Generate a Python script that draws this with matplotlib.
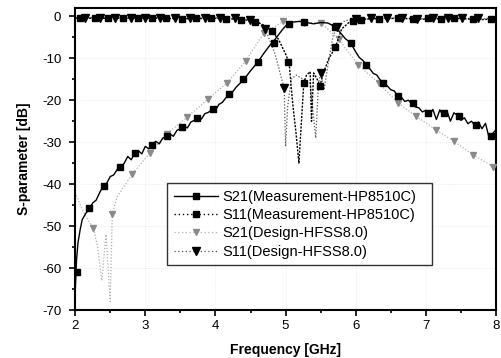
import numpy as np
import matplotlib
matplotlib.use("Agg")
import matplotlib.pyplot as plt
from matplotlib.lines import Line2D
from matplotlib.ticker import MultipleLocator

plt.rcParams['font.family'] = ['Liberation Sans', 'DejaVu Sans']
plt.rcParams['axes.unicode_minus'] = False

# S21 measured (solid line, squares)
s21m_f = [2.00, 2.02, 2.04, 2.07, 2.10, 2.15, 2.20, 2.25, 2.30, 2.35, 2.40, 2.45, 2.50, 2.55,
          2.60, 2.65, 2.70, 2.75, 2.80, 2.85, 2.90, 2.95, 3.00, 3.05, 3.10, 3.15, 3.20, 3.25,
          3.30, 3.35, 3.40, 3.45, 3.50, 3.55, 3.60, 3.65, 3.70, 3.75, 3.80, 3.85, 3.90, 3.95,
          4.00, 4.05, 4.10, 4.15, 4.20, 4.25, 4.30, 4.35, 4.40, 4.45, 4.50, 4.55, 4.60, 4.65,
          4.70, 4.75, 4.80, 4.85, 4.90, 4.95, 5.00, 5.05, 5.10, 5.20, 5.30, 5.40, 5.50, 5.60,
          5.65, 5.70, 5.75, 5.80, 5.85, 5.90, 5.95, 6.00, 6.05, 6.10, 6.15, 6.20, 6.25, 6.30,
          6.35, 6.40, 6.45, 6.50, 6.55, 6.60, 6.65, 6.70, 6.75, 6.80, 6.85, 6.90, 6.95, 7.00,
          7.05, 7.10, 7.15, 7.20, 7.25, 7.30, 7.35, 7.40, 7.45, 7.50, 7.55, 7.60, 7.65, 7.70,
          7.75, 7.80, 7.85, 7.90, 7.95, 8.00]
s21m_db = [-66, -58, -54, -51, -48.5, -47, -46, -44.5, -43.8, -42, -40.5, -39.8, -38.2, -37.8,
           -36.5, -36, -35, -33.4, -34.2, -32.5, -32, -32.8, -31, -31.6, -30.5, -29.8, -30.4, -29,
           -28.8, -28, -28.6, -27.2, -26.8, -26.2, -26.6, -25.2, -24.8, -24.2, -24.5, -23.2, -22.9, -22.2,
           -22.4, -21, -20.5, -19.4, -18.6, -17.9, -16.8, -16, -15, -14.1, -13, -12, -11, -9.8,
           -8.6, -7.5, -6.4, -5.5, -4.4, -3.3, -2.3, -1.8, -1.4, -1.2, -1.5, -1.8, -1.5, -1.6,
           -2.0, -2.6, -3.3, -4.3, -5.3, -6.0, -7.0, -8.5, -9.8, -10.5, -11.5, -12.5, -13.6, -14.0,
           -15.2, -15.8, -16.6, -17.5, -17.8, -19.0, -19.3, -20.3, -20.0, -20.8, -21.6, -21.8, -22.8, -22.4,
           -23.6, -22.2, -24.6, -22.3, -23.8, -22.5, -25.0, -23.0, -23.6, -24.8, -24.2, -25.6, -25.0, -26.0,
           -25.2, -26.8, -25.5, -28.8, -28.0, -27.0]
s21m_mk_f = [2.03, 2.20, 2.41, 2.64, 2.86, 3.10, 3.31, 3.53, 3.74, 3.96, 4.19, 4.40, 4.60, 4.83,
             5.05, 5.26, 5.71, 5.93, 6.14, 6.39, 6.60, 6.81, 7.03, 7.26, 7.47, 7.71, 7.93]
s21m_mk_db = [-61, -45.8, -40.5, -36, -32.5, -30.7, -28.6, -26.5, -24.2, -22.2, -18.6, -14.9, -11, -6.4,
              -1.8, -1.3, -2.6, -6.3, -11.5, -15.8, -19, -20.6, -23, -23, -23.8, -26, -28.6]

# S11 measured (dotted line, small squares)
s11m_f = [2.00, 2.50, 3.00, 3.50, 4.00, 4.30, 4.50, 4.60, 4.70, 4.80, 4.90, 5.00, 5.05, 5.10,
          5.15, 5.19, 5.23, 5.26, 5.30, 5.35, 5.37, 5.40, 5.45, 5.49, 5.55, 5.62, 5.71, 5.80,
          5.93, 6.20, 6.60, 7.00, 7.40, 7.80, 8.00]
s11m_db = [-0.4, -0.5, -0.4, -0.6, -0.5, -0.7, -1.0, -1.4, -2.2, -3.5, -5.5, -9.0, -11.0, -20.5,
           -28, -35, -24, -15.8, -14.0, -13.2, -25, -13.5, -15, -16.5, -13, -10, -7.4, -3.0,
           -1.1, -0.6, -0.5, -0.7, -0.5, -0.8, -0.6]
s11m_mk_f = [2.07, 2.28, 2.47, 2.68, 2.90, 3.10, 3.30, 3.52, 3.72, 3.94, 4.15, 4.36, 4.57,
             4.80, 5.04, 5.26, 5.49, 5.71, 5.96, 6.07, 6.33, 6.60, 6.81, 7.03, 7.21, 7.40, 7.67, 7.93]
s11m_mk_db = [-0.5, -0.4, -0.5, -0.5, -0.4, -0.5, -0.5, -0.6, -0.5, -0.5, -0.6, -0.8, -1.3,
              -3.5, -11, -15.8, -16.5, -7.4, -1.1, -0.8, -0.6, -0.5, -0.7, -0.5, -0.6, -0.5, -0.7, -0.6]

# S21 design (grey dotted line, small grey triangles)
s21d_f = [2.00, 2.10, 2.20, 2.26, 2.32, 2.38, 2.44, 2.50, 2.53, 2.60, 2.70, 2.81, 3.07, 3.31,
          3.60, 3.89, 4.17, 4.43, 4.69, 4.97, 5.26, 5.50, 5.76, 6.03, 6.33, 6.60, 6.86, 7.14,
          7.40, 7.67, 7.96, 8.00]
s21d_db = [-42, -46, -49, -50.4, -55, -63, -52, -68, -47, -43, -40.5, -37.7, -32.5, -28,
           -24, -19.8, -15.8, -10.7, -4, -1.2, -1.5, -1.5, -5.5, -11.5, -16, -20.6, -23.8, -27,
           -29.8, -33, -35.8, -36.2]
s21d_mk_f = [2.26, 2.53, 2.81, 3.07, 3.31, 3.60, 3.89, 4.17, 4.43, 4.69, 4.97, 5.26, 5.50,
             5.76, 6.03, 6.33, 6.60, 6.86, 7.14, 7.40, 7.67, 7.96]
s21d_mk_db = [-50.4, -47, -37.7, -32.5, -28, -24, -19.8, -15.8, -10.7, -4, -1.2, -1.5, -1.5,
              -5.5, -11.5, -16, -20.6, -23.8, -27, -29.8, -33, -35.8]

# S11 design (dotted line, black triangles)
s11d_f = [2.00, 2.50, 3.00, 3.50, 4.00, 4.40, 4.60, 4.71, 4.85, 4.98, 5.00, 5.03, 5.08, 5.15,
          5.25, 5.35, 5.43, 5.47, 5.50, 5.55, 5.62, 5.68, 5.74, 5.85, 6.20, 6.60, 7.00, 7.40,
          7.80, 8.00]
s11d_db = [-0.3, -0.4, -0.3, -0.4, -0.4, -0.6, -1.2, -3.0, -9, -17.2, -31, -21.5, -15, -14,
           -15, -16, -29, -16, -13.6, -17.4, -10, -4.5, -2.6, -1.0, -0.5, -0.4, -0.6, -0.4,
           -0.6, -0.5]
s11d_mk_f = [2.14, 2.36, 2.57, 2.79, 3.00, 3.21, 3.42, 3.64, 3.85, 4.06, 4.28, 4.49, 4.71,
             4.98, 5.50, 5.74, 6.00, 6.22, 6.45, 6.66, 6.88, 7.10, 7.31, 7.52, 7.74]
s11d_mk_db = [-0.4, -0.4, -0.4, -0.3, -0.4, -0.4, -0.3, -0.4, -0.4, -0.4, -0.5, -0.8, -3.0,
              -17.2, -13.6, -2.6, -0.6, -0.5, -0.5, -0.4, -0.6, -0.5, -0.5, -0.5, -0.5]

labels = ['S21(Measurement-HP8510C)', 'S11(Measurement-HP8510C)',
          'S21(Design-HFSS8.0)', 'S11(Design-HFSS8.0)']

fig = plt.figure(figsize=(5.01, 3.58), dpi=100)
ax = fig.add_axes([0.150, 0.134, 0.840, 0.844])

grey = '#8a8a8a'

ax.plot(s21d_f, s21d_db, color='#b0b0b0', lw=0.9, ls=(0, (1, 1.5)), zorder=2)
ax.plot(s21d_mk_f, s21d_mk_db, ls='none', marker='v', ms=4.5, color=grey, zorder=3)

ax.plot(s11d_f, s11d_db, color='#555555', lw=0.9, ls=(0, (1, 1.5)), zorder=2)
ax.plot(s11d_mk_f, s11d_mk_db, ls='none', marker='v', ms=6, color='black', zorder=3)

ax.plot(s11m_f, s11m_db, color='black', lw=1.0, ls=(0, (1.5, 1)), zorder=4)
ax.plot(s11m_mk_f, s11m_mk_db, ls='none', marker='s', ms=4.5, color='black', zorder=5)

ax.plot(s21m_f, s21m_db, color='black', lw=1.0, zorder=4)
ax.plot(s21m_mk_f, s21m_mk_db, ls='none', marker='s', ms=5, color='black', zorder=5)

ax.set_xlim(2, 8)
ax.set_ylim(-70, 2)
ax.xaxis.set_major_locator(MultipleLocator(1))
ax.xaxis.set_minor_locator(MultipleLocator(0.5))
ax.yaxis.set_major_locator(MultipleLocator(10))
ax.yaxis.set_minor_locator(MultipleLocator(5))
ax.tick_params(which='both', direction='out', width=1.2, labelsize=9.5)
ax.tick_params(which='major', length=4)
ax.tick_params(which='minor', length=2.5)
ax.tick_params(axis='x', which='major', pad=3)
ax.tick_params(axis='y', which='major', pad=6)
for sp in ax.spines.values():
    sp.set_linewidth(1.5)

ax.grid(True, which='major', color='#dcdcdc', lw=0.5, ls=(0, (1, 2)))
ax.set_axisbelow(True)

ax.set_xlabel('Frequency [GHz]', fontsize=10, fontweight='bold', labelpad=8)
ax.set_ylabel('S-parameter [dB]', fontsize=10, fontweight='bold', labelpad=8)

handles = [
    Line2D([], [], color='black', lw=1.0, marker='s', ms=5),
    Line2D([], [], color='black', lw=1.0, ls=(0, (1, 2)), marker='s', ms=4.5),
    Line2D([], [], color='#b0b0b0', lw=0.9, ls=(0, (1, 2)), marker='v', ms=4.5,
           mfc=grey, mec=grey),
    Line2D([], [], color='#555555', lw=0.9, ls=(0, (1, 2)), marker='v', ms=6,
           mfc='black', mec='black'),
]
leg = ax.legend(handles, labels, loc='upper left', mode='expand',
                bbox_to_anchor=(0.219, 0.156, 0.629, 0.264),
                fontsize=10.5, frameon=True, fancybox=False, edgecolor='black',
                handlelength=3.0, handletextpad=0.35, labelspacing=0.3,
                borderpad=0.45, borderaxespad=0)
leg.get_frame().set_linewidth(1.0)

fig.savefig('out.png', dpi=100)
